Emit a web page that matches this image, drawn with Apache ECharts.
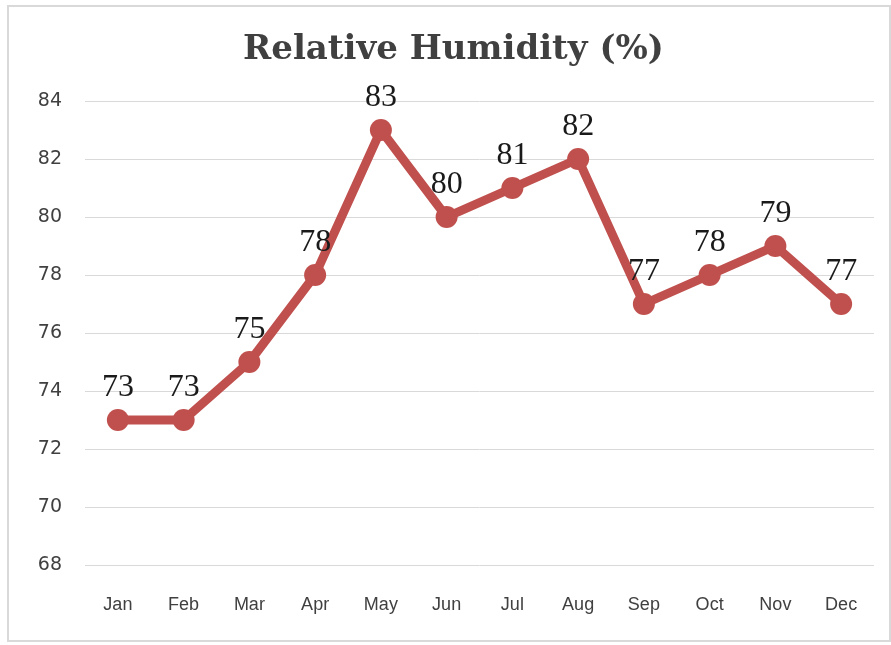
<!DOCTYPE html>
<html>
<head>
<meta charset="utf-8">
<script src="https://cdn.jsdelivr.net/npm/echarts@6/dist/echarts.min.js"></script>
<style>
  html, body { margin: 0; padding: 0; background: #fff; }
  .frame {
    position: absolute;
    left: 7px; top: 5px;
    width: 880px; height: 633px;
    border: 2px solid #d9d9d9;
  }
  #chart { position: absolute; left: 0; top: 0; width: 891px; height: 645px; }
</style>
</head>
<body>
<div class="frame"></div>
<div id="chart"></div>
<script>
  const months = ['Jan', 'Feb', 'Mar', 'Apr', 'May', 'Jun', 'Jul', 'Aug', 'Sep', 'Oct', 'Nov', 'Dec'];
  const humidity = [73, 73, 75, 78, 83, 80, 81, 82, 77, 78, 79, 77];

  const chart = echarts.init(document.getElementById('chart'));
  const option = {
    title: {
      text: 'Relative Humidity (%)',
      left: 238,
      top: 28,
      textStyle: {
        fontFamily: 'DejaVu Serif',
        fontWeight: 'bold',
        fontSize: 34,
        color: '#404040'
      }
    },
    grid: {
      left: 85,
      right: 17,
      top: 101,
      bottom: 80
    },
    xAxis: {
      type: 'category',
      data: months,
      axisLine: { show: false },
      axisTick: { show: false },
      axisLabel: {
        margin: 31,
        fontFamily: 'Liberation Sans',
        fontSize: 18,
        color: '#404040'
      }
    },
    yAxis: {
      type: 'value',
      min: 68,
      max: 84,
      interval: 2,
      axisLine: { show: false },
      axisTick: { show: false },
      axisLabel: {
        margin: 23,
        fontFamily: 'DejaVu Sans',
        fontSize: 19,
        color: '#404040'
      },
      splitLine: { lineStyle: { color: '#d9d9d9', width: 1 } }
    },
    series: [
      {
        type: 'line',
        data: humidity,
        symbol: 'circle',
        symbolSize: 22,
        lineStyle: { color: '#C0504D', width: 9 },
        itemStyle: { color: '#C0504D' },
        label: {
          show: true,
          position: 'top',
          distance: 5,
          fontFamily: 'Liberation Serif',
          fontSize: 32,
          color: '#1a1a1a'
        }
      }
    ]
  };
  chart.setOption(option);
</script>
</body>
</html>
